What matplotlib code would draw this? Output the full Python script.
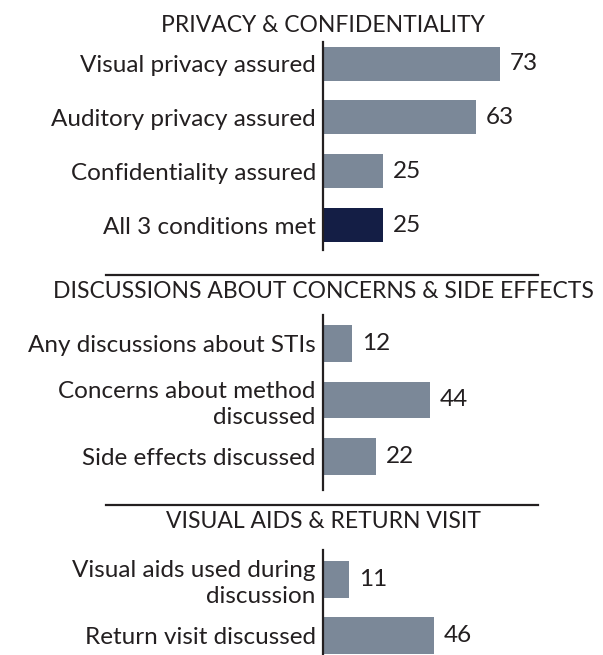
import matplotlib
matplotlib.use("Agg")
import matplotlib.pyplot as plt
from matplotlib.lines import Line2D

plt.rcParams['font.family'] = ['Lato', 'DejaVu Sans']

# data
sec1_title = "PRIVACY & CONFIDENTIALITY"
sec1_labels = ["Visual privacy assured", "Auditory privacy assured",
               "Confidentiality assured", "All 3 conditions met"]
sec1_values = [73, 63, 25, 25]

sec2_title = "DISCUSSIONS ABOUT CONCERNS & SIDE EFFECTS"
sec2_labels = ["Any discussions about STIs", "Concerns about method\ndiscussed",
               "Side effects discussed"]
sec2_values = [12, 44, 22]

sec3_title = "VISUAL AIDS & RETURN VISIT"
sec3_labels = ["Visual aids used during\ndiscussion", "Return visit discussed"]
sec3_values = [11, 46]

W, H = 603, 655
BAR = "#7b8898"
DARK = "#141e45"
TXT = "#231f20"
FS = 17.5
FS_HEAD = 16.5

fig = plt.figure(figsize=(W / 100, H / 100), dpi=100)
fig.patch.set_facecolor("white")

x0 = 322.7          # axis position in px
xmax = (W - x0) / 2.43


def section(top, bot, labels, values, colors, ylim, height):
    ax = fig.add_axes([x0 / W, 1 - bot / H, 1 - x0 / W, (bot - top) / H])
    ys = list(range(len(values)))
    ax.barh(ys, values, height=height, color=colors)
    ax.set_xlim(0, xmax)
    ax.set_ylim(*ylim)
    for s in ["top", "right", "bottom"]:
        ax.spines[s].set_visible(False)
    ax.spines["left"].set_linewidth(1.6)
    ax.spines["left"].set_color(TXT)
    ax.set_xticks([])
    ax.set_yticks(ys)
    ax.set_yticklabels(labels, fontsize=FS, color=TXT, linespacing=1.3)
    ax.tick_params(axis="y", length=0, pad=5)
    for y, v in zip(ys, values):
        ax.text(v + 4.0, y, str(v), va="center", ha="left", fontsize=FS, color=TXT)
    return ax


section(42, 250, sec1_labels, sec1_values, [BAR, BAR, BAR, DARK], (3.46, -0.4), 0.63)
section(315, 490, sec2_labels, sec2_values, [BAR] * 3, (2.59, -0.5), 0.65)
section(550, 655, sec3_labels, sec3_values, [BAR] * 2, (1.34, -0.52), 0.65)

# headers
for title, base in [(sec1_title, 31.5), (sec2_title, 298), (sec3_title, 528)]:
    fig.text(323 / W, 1 - base / H, title, ha="center", va="baseline",
             fontsize=FS_HEAD, color=TXT)

# separators
for yy in [275, 505]:
    fig.add_artist(Line2D([106 / W, 538 / W], [1 - yy / H, 1 - yy / H],
                          color=TXT, lw=1.6, transform=fig.transFigure))

fig.savefig("out.png", dpi=100)
